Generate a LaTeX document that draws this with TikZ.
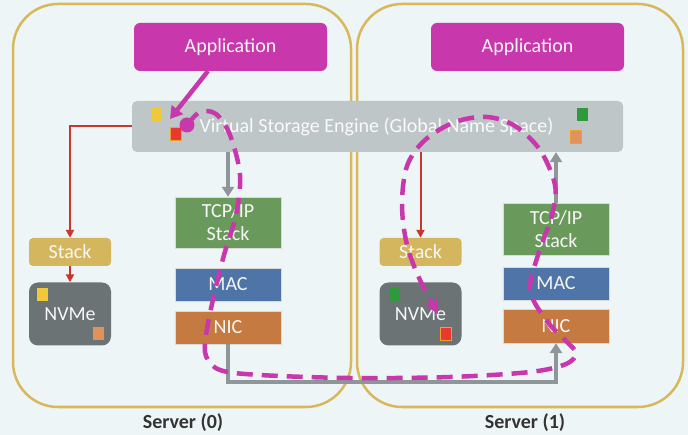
\documentclass[tikz,border=0pt]{standalone}
\usepackage{fontspec}
\setmainfont{Carlito}
\usetikzlibrary{arrows.meta}
\definecolor{bgc}{HTML}{EDF5F7}
\definecolor{srvc}{HTML}{D9B85C}
\definecolor{magc}{HTML}{C837AB}
\definecolor{vsec}{HTML}{BFC6C7}
\definecolor{stackc}{HTML}{D4B65E}
\definecolor{nvmec}{HTML}{6B7375}
\definecolor{tcpc}{HTML}{6A9A5B}
\definecolor{macc}{HTML}{4F74A8}
\definecolor{nicc}{HTML}{C47A40}
\definecolor{redc}{HTML}{C8362E}
\definecolor{grayc}{HTML}{8F9699}
\definecolor{sqy}{HTML}{F0C93A}
\definecolor{sqr}{HTML}{E8382F}
\definecolor{sqo}{HTML}{E0925A}
\definecolor{sqg}{HTML}{2E9A3C}
\definecolor{sqb}{HTML}{F0A030}
\definecolor{labc}{HTML}{333333}
\begin{document}
\begin{tikzpicture}[x=1pt,y=-1pt,
  server/.style={draw=srvc, line width=2.5pt, rounded corners=45pt, inner sep=0pt},
  blk/.style={inner sep=0pt, text=white!94!gray, font=\fontsize{20}{23}\selectfont, align=center},
  appbox/.style={blk, fill=magc, rounded corners=6pt, minimum width=193pt, minimum height=48pt},
  vsebox/.style={blk, fill=vsec, rounded corners=5pt, minimum width=491pt, minimum height=51pt, text=white!92!vsec},
  stackbox/.style={blk, fill=stackc, rounded corners=4pt, minimum width=82pt, minimum height=28pt},
  nvmebox/.style={blk, fill=nvmec, rounded corners=9pt, minimum width=82pt, minimum height=63pt},
  layerbox/.style={blk, minimum width=106pt, draw=white!70!gray, line width=0.4pt},
  sq/.style={inner sep=0pt, minimum width=11pt, minimum height=13pt},
  redarrow/.style={draw=redc, line width=2pt, -{Triangle[length=8pt,width=8pt]}},
  grayarrow/.style={draw=grayc, line width=4pt, -{Triangle[length=10pt,width=12pt]}},
  magarrow/.style={draw=magc, line width=4.5pt, -{Triangle[length=12pt,width=14pt]}},
  magdash/.style={draw=magc, line width=4.5pt, dash pattern=on 16pt off 9pt, -{Stealth[length=15pt,width=15pt]}},
  srvlabel/.style={font=\fontsize{20}{23}\selectfont\bfseries, text=labc}
]
\fill[bgc] (0,0) rectangle (688,435);
\useasboundingbox (0,0) rectangle (688,435);

% servers
\node[server, minimum width=338pt, minimum height=403pt] (srv0) at (182,205.5) {};
\node[server, minimum width=326pt, minimum height=403pt] (srv1) at (520,205.5) {};
\node[srvlabel] (lab0) at (183,423) {Server (0)};
\node[srvlabel] (lab1) at (525,423) {Server (1)};

% applications
\node[appbox] (appL) at (230.5,47) {Application};
\node[appbox] (appR) at (527.5,47) {Application};

% VSE
\node[vsebox] (vse) at (377.5,126.5) {\hspace*{-2pt}Virtual Storage Engine (Global Name Space)};

% left side
\node[stackbox] (stackL) at (70,252) {Stack};
\node[nvmebox] (nvmeL) at (70,314) {NVMe};
\node[layerbox, fill=tcpc, minimum height=51pt] (tcpL) at (228,222.5) {TCP/IP\\Stack};
\node[layerbox, fill=macc, minimum height=33pt] (macL) at (228,284.5) {MAC};
\node[layerbox, fill=nicc, minimum height=33pt] (nicL) at (228,327.5) {NIC};

% right side
\node[stackbox] (stackR) at (420.5,252) {Stack};
\node[nvmebox] (nvmeR) at (420.5,314) {NVMe};
\node[layerbox, fill=tcpc, minimum height=52pt] (tcpR) at (556,229) {TCP/IP\\Stack};
\node[layerbox, fill=macc, minimum height=33pt] (macR) at (556,283.5) {MAC};
\node[layerbox, fill=nicc, minimum height=34pt] (nicR) at (556,326) {NIC};

% small squares
\node[sq, fill=sqy] (sqA) at (156,115) {};
\node[sq, fill=sqr, draw=sqb, line width=1pt] (sqB) at (175.5,134) {};
\node[sq, fill=sqg] (sqC) at (582,114.5) {};
\node[sq, fill=sqo, draw=sqb, line width=0.8pt] (sqD) at (575.5,137) {};
\node[sq, fill=sqy] (sqE) at (42,294.5) {};
\node[sq, fill=sqo] (sqF) at (98,333.5) {};
\node[sq, fill=sqg] (sqG) at (394,295) {};
\node[sq, fill=sqr, draw=sqb, line width=1pt] (sqH) at (446,334) {};

% red connectors
\draw[redarrow] (vse.west) -| (stackL.north);
\draw[redarrow] (stackL.south) -- (nvmeL.north);
\draw[redarrow] (vse.south -| stackR.north) -- (stackR.north);

% gray connectors
\draw[grayarrow] (vse.south -| tcpL.north) -- (tcpL.north);
\draw[grayarrow] (tcpR.north) -- (vse.south -| tcpR.north);
\draw[grayarrow] (nicL.south) -- ++(0,38) -| (nicR.south);

% application arrow
\coordinate (appstart) at (208,71);
\coordinate (apptip) at (170,119);
\draw[magarrow] (appstart) -- (apptip);

% dot and dashed path
\node[circle, fill=magc, minimum size=15pt, inner sep=0pt] (dot) at (187,125) {};
\coordinate (dashend) at (438,314);
\draw[magdash] plot[smooth, tension=0.55] coordinates {
 (187,125) (200,112) (216,114) (230,135) (240,175) (236,215) (224,255)
 (214,295) (206,335) (206,356) (220,370) (260,375) (350,378) (450,377)
 (530,372) (566,364) (576,353) (566,341) (546,320) (530,290) (538,255)
 (552,215) (555,185) (540,150) (515,126) (487,117) (455,122) (425,140)
 (407,166) (402,205) (407,245) (420,280) (dashend)};
\end{tikzpicture}
\end{document}
